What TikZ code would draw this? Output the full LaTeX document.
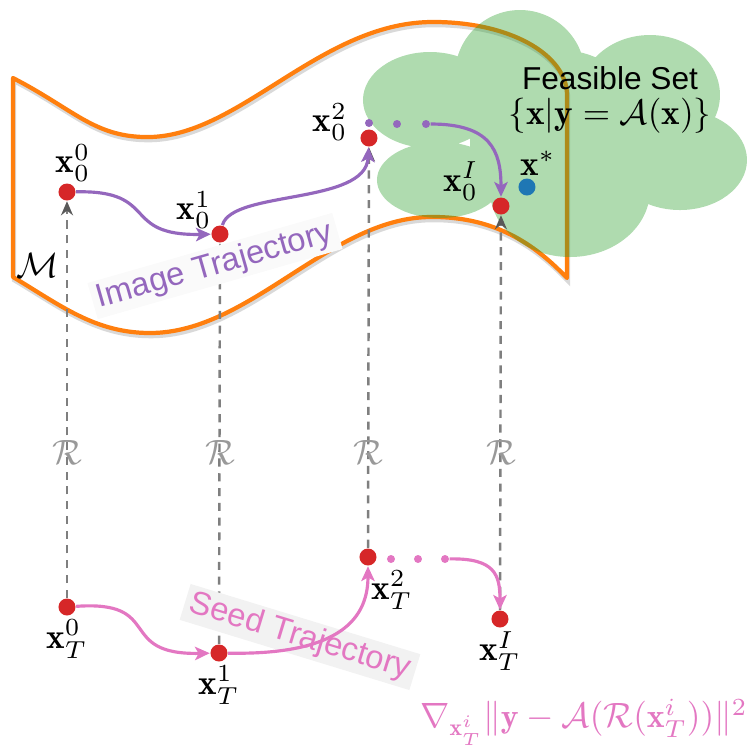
\documentclass[tikz,border=0pt]{standalone}
\usepackage{fontspec}
\newfontfamily\helv{Liberation Sans}
\usetikzlibrary{arrows.meta}
\definecolor{mforange}{HTML}{FF7F0E}
\definecolor{fsgreen}{HTML}{2CA02C}
\definecolor{ptred}{HTML}{D62728}
\definecolor{optblue}{HTML}{1F77B4}
\definecolor{imgpurple}{HTML}{9467BD}
\definecolor{seedpink}{HTML}{E377C2}
\definecolor{dashgray}{HTML}{7F7F7F}
\tikzset{
	rdot/.style={circle, fill=ptred, inner sep=0pt, minimum size=0.17cm},
	pdot/.style={circle, fill=imgpurple, inner sep=0pt, minimum size=0.08cm},
	kdot/.style={circle, fill=seedpink, inner sep=0pt, minimum size=0.08cm},
	lbl/.style={inner sep=0.5pt},
	darr/.style={draw=dashgray, line width=0.7pt, dash pattern=on 2.3pt off 1.9pt,
		-{Stealth[length=4pt, width=3.4pt, inset=1.3pt, color=black!65]}},
	parr/.style={draw=imgpurple, line width=0.9pt, -{Stealth[length=4.2pt, width=3.8pt, inset=1pt]}},
	karr/.style={draw=seedpink, line width=0.9pt, -{Stealth[length=4.2pt, width=3.8pt, inset=1pt]}},
	trajtxt/.style={inner xsep=1.5pt, inner ysep=1pt, font=\helv\fontsize{9.3}{10}\selectfont},
	rmap/.style={text=black!40, inner sep=0pt}
}

\begin{document}
\begin{tikzpicture}[x=0.01cm, y=-0.01cm]
	\useasboundingbox (0,0) rectangle (747,750);
	% manifold M
	\draw[mforange, line width=1.2pt, line join=round,
		preaction={draw=black!15, line width=1.2pt, transform canvas={shift={(0.3pt,-0.9pt)}}}]
		(13,78) .. controls (75,110) and (95,138) .. (150,137)
		.. controls (240,135) and (320,24) .. (430,22)
		.. controls (510,21) and (567,55) .. (567,95)
		-- (567,278)
		.. controls (540,250) and (500,216) .. (430,217)
		.. controls (330,218) and (250,333) .. (150,333)
		.. controls (95,333) and (60,305) .. (13,277) -- cycle;
	\node (man) at (38,265) {$\mathcal{M}$};
	% feasible set
	\fill[fsgreen, fill opacity=0.38]
		(430,100) ellipse [x radius=67, y radius=48]
		(520,75) circle [radius=65]
		(650,95) ellipse [x radius=70, y radius=60]
		(680,160) ellipse [x radius=67, y radius=50]
		(570,190) ellipse [x radius=80, y radius=67]
		(440,180) ellipse [x radius=63, y radius=38]
		(560,140) circle [radius=90];
	\node[font=\helv\fontsize{9}{11}\selectfont] (fs) at (610,78) {Feasible Set};
	\node (fsdef) at (610,116) {$\{\mathbf{x}|\mathbf{y}=\mathcal{A}(\mathbf{x})\}$};

	% image points
	\node[rdot] (i0) at (67,192) {};
	\node[rdot] (i1) at (220,234) {};
	\node[rdot] (i2) at (369,138) {};
	\node[rdot] (iI) at (501,206) {};
	\node[circle, fill=optblue, inner sep=0pt, minimum size=0.17cm] (xs) at (527,187) {};
	\node[pdot] (d1) at (369,123) {};
	\node[pdot] (d2) at (397,124) {};
	\node[pdot] (d3) at (426,124) {};

	% seed points
	\node[rdot] (t0) at (67,607) {};
	\node[rdot] (t1) at (219,653) {};
	\node[rdot] (t2) at (368,557) {};
	\node[rdot] (tI) at (500,619) {};
	\node[kdot] (k1) at (391,559) {};
	\node[kdot] (k2) at (418,559) {};
	\node[kdot] (k3) at (445,559) {};

	% decoder R
	\foreach \s/\t in {t0/i0, t1/i1, t2/i2, tI/iI}
		\draw[darr] (\s) -- (\t);
	\foreach \c/\n in {67/1, 220/2, 368/3, 501/4}
		\node[rmap] (r\n) at (\c,452) {$\mathcal{R}$};

	% trajectories
	\node[trajtxt, fill=gray!4, text=imgpurple, rotate=16] (itraj) at (215,266) {Image Trajectory};
	\node[trajtxt, fill=gray!10, text=seedpink, rotate=-17] (straj) at (300,637) {Seed Trajectory};
	\draw[parr] (i0) .. controls (160,190) and (120,236) .. (i1);
	\draw[parr] (i1) .. controls (232,190) and (366,205) .. (i2);
	\draw[parr] (d3) .. controls (490,124) and (501,150) .. (iI);
	\draw[karr] (t0) .. controls (165,600) and (115,655) .. (t1);
	\draw[karr] (t1) .. controls (330,655) and (368,625) .. (t2);
	\draw[karr] (k3) .. controls (495,558) and (500,575) .. (tI);

	% labels
	\node[lbl] (li0) at (73,163) {$\mathbf{x}_0^0$};
	\node[lbl] (li1) at (194,210) {$\mathbf{x}_0^1$};
	\node[lbl] (li2) at (330,122) {$\mathbf{x}_0^2$};
	\node[lbl] (liI) at (461,181) {$\mathbf{x}_0^I$};
	\node[lbl] (lxs) at (538,163) {$\mathbf{x}^*$};
	\node[lbl] (lt0) at (67,639) {$\mathbf{x}_T^0$};
	\node[lbl] (lt1) at (219,685) {$\mathbf{x}_T^1$};
	\node[lbl] (lt2) at (392,590) {$\mathbf{x}_T^2$};
	\node[lbl] (ltI) at (500,651) {$\mathbf{x}_T^I$};
	\node[text=seedpink, font=\fontsize{9.6}{11}\selectfont] (grad) at (584,722)
		{$\nabla_{\mathbf{x}_T^i}\|\mathbf{y}-\mathcal{A}(\mathcal{R}(\mathbf{x}_T^i))\|^2$};
\end{tikzpicture}
\end{document}
